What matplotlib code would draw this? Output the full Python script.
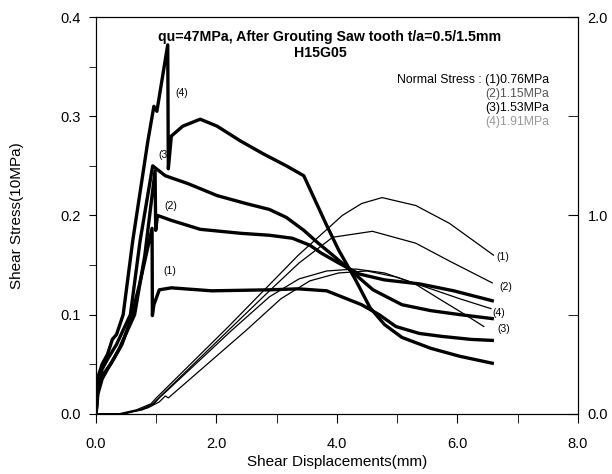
import matplotlib
matplotlib.use("Agg")
import matplotlib.pyplot as plt
from matplotlib.ticker import MultipleLocator

plt.rcParams['font.family'] = ['Liberation Sans', 'DejaVu Sans']

# ==== shear stress curves (10MPa) vs shear displacement (mm) ====
s1_x = [0, 0.03, 0.1, 0.19, 0.29, 0.43, 0.57, 0.72, 0.93, 0.935, 0.96, 1.05, 1.25,
        1.92, 2.88, 3.36, 3.83, 4.12, 4.41, 4.70, 4.98, 5.37, 5.75, 6.23, 6.58]
s1_y = [0, 0.02, 0.035, 0.045, 0.055, 0.07, 0.094, 0.13, 0.187, 0.099, 0.11, 0.125, 0.127,
        0.124, 0.125, 0.126, 0.124, 0.117, 0.11, 0.10, 0.088, 0.081, 0.078, 0.075, 0.074]

s2_x = [0, 0.03, 0.12, 0.24, 0.38, 0.64, 0.81, 0.98, 0.99, 1.02, 1.25, 1.73, 2.4,
        2.88, 3.26, 3.55, 3.74, 4.03, 4.37, 4.79, 5.37, 5.94, 6.58]
s2_y = [0, 0.025, 0.04, 0.05, 0.065, 0.10, 0.16, 0.245, 0.185, 0.2, 0.195, 0.186, 0.182,
        0.18, 0.177, 0.17, 0.162, 0.152, 0.141, 0.135, 0.131, 0.124, 0.114]

s3_x = [0, 0.03, 0.1, 0.19, 0.34, 0.57, 0.73, 0.94, 1.15, 1.53, 2.01, 2.49, 2.88,
        3.16, 3.45, 3.69, 3.93, 4.22, 4.6, 5.08, 5.56, 6.04, 6.58]
s3_y = [0, 0.03, 0.045, 0.055, 0.07, 0.10, 0.174, 0.25, 0.24, 0.232, 0.22, 0.212, 0.206,
        0.198, 0.185, 0.172, 0.16, 0.145, 0.125, 0.11, 0.104, 0.10, 0.096]

s4_x = [0, 0.02, 0.1, 0.19, 0.27, 0.34, 0.45, 0.61, 0.86, 0.96, 1.01, 1.19, 1.2, 1.25,
        1.44, 1.73, 2.01, 2.4, 2.78, 3.16, 3.45, 3.64, 3.83, 4.03, 4.31, 4.55, 4.79,
        5.08, 5.56, 6.04, 6.58]
s4_y = [0, 0.035, 0.05, 0.06, 0.075, 0.08, 0.10, 0.175, 0.275, 0.31, 0.305, 0.372, 0.247,
        0.28, 0.29, 0.297, 0.29, 0.275, 0.262, 0.25, 0.24, 0.215, 0.19, 0.165, 0.135,
        0.107, 0.09, 0.077, 0.066, 0.058, 0.051]

# ==== dilation curves (right axis) ====
d1_x = [0, 0.38, 0.67, 0.91, 1.0, 2.2, 3.36, 4.09, 4.41, 4.75, 5.31, 5.87, 6.6]
d1_y = [0, 0, 0.02, 0.05, 0.08, 0.44, 0.80, 1.0, 1.06, 1.09, 1.05, 0.96, 0.80]
d2_x = [0, 0.43, 0.72, 0.94, 1.04, 2.23, 2.88, 3.37, 3.93, 4.59, 5.31, 5.87, 6.58]
d2_y = [0, 0, 0.02, 0.05, 0.08, 0.43, 0.62, 0.76, 0.89, 0.92, 0.86, 0.77, 0.66]
d3_x = [0, 0.43, 0.77, 0.96, 1.05, 2.25, 2.88, 3.37, 3.83, 4.31, 4.79, 5.27, 5.75, 6.13, 6.44]
d3_y = [0, 0, 0.02, 0.05, 0.08, 0.42, 0.59, 0.68, 0.72, 0.73, 0.71, 0.66, 0.57, 0.5, 0.44]
d4_x = [0, 0.48, 0.86, 1.05, 1.15, 1.2, 2.49, 3.07, 3.55, 4.03, 4.5, 4.98, 5.56, 6.04, 6.56]
d4_y = [0, 0, 0.03, 0.06, 0.09, 0.08, 0.42, 0.58, 0.67, 0.71, 0.72, 0.69, 0.63, 0.58, 0.53]

normal_stress = ['(1)0.76MPa', '(2)1.15MPa', '(3)1.53MPa', '(4)1.91MPa']

fig = plt.figure(figsize=(6.12, 4.74), dpi=100)
ax = fig.add_axes([0.157, 0.127, 0.787, 0.837])

for xx, yy in [(s1_x, s1_y), (s2_x, s2_y), (s3_x, s3_y), (s4_x, s4_y)]:
    ax.plot(xx, yy, color='black', lw=2.4, solid_joinstyle='round')

ax.set_xlim(0, 8)
ax.set_ylim(0, 0.4)
ax.xaxis.set_major_locator(MultipleLocator(2))
ax.xaxis.set_minor_locator(MultipleLocator(1))
ax.yaxis.set_major_locator(MultipleLocator(0.1))
ax.yaxis.set_minor_locator(MultipleLocator(0.05))
ax.xaxis.set_major_formatter(lambda v, p: f'{v:.1f}')
ax.yaxis.set_major_formatter(lambda v, p: f'{v:.1f}')
ax.tick_params(axis='x', which='both', direction='out', length=6.5, pad=10, labelsize=10.5)
ax.tick_params(axis='y', which='both', direction='out', length=5, pad=6, labelsize=10.5)
ax.set_xlabel('Shear Displacements(mm)', fontsize=11, labelpad=3)
ax.set_ylabel('Shear Stress(10MPa)', fontsize=11, labelpad=26)

ax2 = ax.twinx()
for xx, yy in [(d1_x, d1_y), (d2_x, d2_y), (d3_x, d3_y), (d4_x, d4_y)]:
    ax2.plot(xx, yy, color='black', lw=0.9)
ax2.set_ylim(0, 2.0)
ax2.yaxis.set_major_locator(MultipleLocator(1.0))
ax2.yaxis.set_minor_locator(MultipleLocator(0.5))
ax2.yaxis.set_major_formatter(lambda v, p: f'{v:.1f}')
ax2.tick_params(which='both', direction='in', length=7, labelsize=10.5, pad=7)

# curve labels
lbl = dict(fontsize=7.5, ha='center', va='center')
ax.text(1.42, 0.323, '(4)', **lbl)
ax.text(1.14, 0.261, '(3)', **lbl)
ax.text(1.24, 0.21, '(2)', **lbl)
ax.text(1.22, 0.144, '(1)', **lbl)
ax.text(6.75, 0.158, '(1)', **lbl)
ax.text(6.8, 0.128, '(2)', **lbl)
ax.text(6.69, 0.102, '(4)', **lbl)
ax.text(6.77, 0.085, '(3)', **lbl)

ax.text(0.485, 0.95, 'qu=47MPa, After Grouting Saw tooth t/a=0.5/1.5mm',
        transform=ax.transAxes, ha='center', va='center', fontsize=10.2, fontweight='bold')
ax.text(0.465, 0.909, 'H15G05', transform=ax.transAxes, ha='center', va='center',
        fontsize=10.2, fontweight='bold')

ax.text(0.94, 0.841, 'Normal Stress : ' + normal_stress[0], transform=ax.transAxes,
        ha='right', va='center', fontsize=8.8)
colors_ns = ['#555555', 'black', '#999999']
for i, txt in enumerate(normal_stress[1:]):
    ax.text(0.94, 0.806 - 0.035 * i, txt, transform=ax.transAxes, ha='right',
            va='center', fontsize=8.8, color=colors_ns[i])

fig.savefig('out.png', dpi=100)
